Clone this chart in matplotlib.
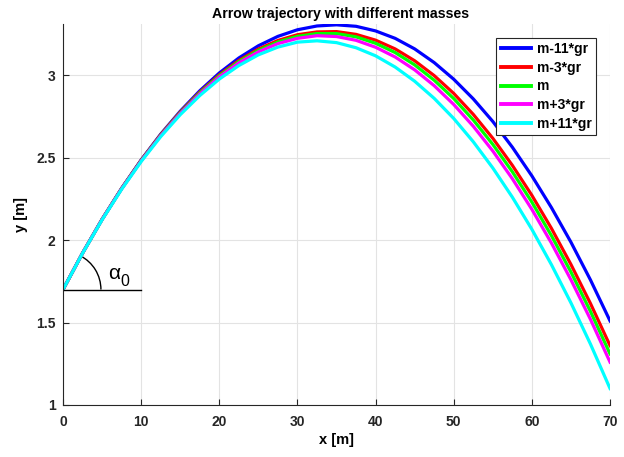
import matplotlib
matplotlib.use('Agg')
import matplotlib.pyplot as plt
from matplotlib.patches import Arc

# distance along the ground [m]
x_m = [0, 2.5, 5, 7.5, 10, 12.5, 15, 17.5, 20, 22.5, 25, 27.5, 30, 32.5, 35,
       37.5, 40, 42.5, 45, 47.5, 50, 52.5, 55, 57.5, 60, 62.5, 65, 67.5, 70]

# height [m] for each arrow mass
y_m_minus_11 = [1.700, 1.921, 2.126, 2.314, 2.486, 2.642, 2.781, 2.905, 3.013, 3.104, 3.178, 3.235, 3.275, 3.298, 3.305,
                3.296, 3.268, 3.223, 3.159, 3.076, 2.975, 2.856, 2.719, 2.563, 2.389, 2.197, 1.987, 1.758, 1.510]
y_m_minus_3 = [1.700, 1.921, 2.126, 2.313, 2.484, 2.639, 2.776, 2.897, 3.002, 3.089, 3.158, 3.210, 3.245, 3.262, 3.264,
               3.247, 3.212, 3.159, 3.087, 2.997, 2.889, 2.762, 2.617, 2.453, 2.271, 2.071, 1.852, 1.615, 1.360]
y_m = [1.700, 1.921, 2.125, 2.312, 2.482, 2.636, 2.772, 2.892, 2.996, 3.082, 3.150, 3.201, 3.235, 3.252, 3.252,
       3.232, 3.193, 3.137, 3.062, 2.969, 2.858, 2.728, 2.580, 2.414, 2.230, 2.027, 1.806, 1.567, 1.310]
y_m_plus_3 = [1.700, 1.921, 2.125, 2.311, 2.480, 2.633, 2.768, 2.886, 2.989, 3.074, 3.141, 3.191, 3.223, 3.239, 3.234,
              3.211, 3.169, 3.110, 3.032, 2.936, 2.822, 2.690, 2.540, 2.372, 2.186, 1.982, 1.759, 1.519, 1.260]
y_m_plus_11 = [1.700, 1.920, 2.123, 2.308, 2.476, 2.627, 2.760, 2.876, 2.976, 3.058, 3.123, 3.170, 3.200, 3.208, 3.197,
               3.166, 3.117, 3.049, 2.963, 2.859, 2.737, 2.596, 2.437, 2.260, 2.065, 1.851, 1.619, 1.369, 1.100]

labels = ['m-11*gr', 'm-3*gr', 'm', 'm+3*gr', 'm+11*gr']
colors = ['#0000ff', '#ff0000', '#00ff00', '#ff00ff', '#00ffff']
series = [y_m_minus_11, y_m_minus_3, y_m, y_m_plus_3, y_m_plus_11]

x_ticks = [0, 10, 20, 30, 40, 50, 60, 70]
y_ticks = [1, 1.5, 2, 2.5, 3]
y_ticklabels = ['1', '1.5', '2', '2.5', '3']

plt.rcParams['font.family'] = ['Liberation Sans', 'DejaVu Sans']

fig = plt.figure(figsize=(6.24, 4.57), dpi=100)
ax = fig.add_axes([0.101, 0.1138, 0.8766, 0.8337])

for ys, c, lab in zip(series, colors, labels):
    ax.plot(x_m, ys, color=c, linewidth=2.3, label=lab, solid_joinstyle='round')

# launch angle sketch
ax.plot([0, 10], [1.70, 1.70], color='black', linewidth=1)
ax.add_patch(Arc((0, 1.70), 9.7, 0.46, theta1=0, theta2=5.3, color='black', linewidth=1))
ax.text(5.75, 1.80, 'α', fontsize=15, va='center', ha='left')
ax.text(7.3, 1.75, '0', fontsize=11.5, va='center', ha='left')

ax.set_xlim(0, 70)
ax.set_ylim(1, 3.31)
ax.set_xticks(x_ticks)
ax.set_yticks(y_ticks)
ax.set_yticklabels(y_ticklabels)
ax.grid(True, color='#e3e3e3', linewidth=0.8)
ax.set_axisbelow(True)
for s in ['top', 'right']:
    ax.spines[s].set_visible(False)
for s in ['left', 'bottom']:
    ax.spines[s].set_color('#262626')
ax.tick_params(direction='in', length=4, colors='#262626', labelsize=10)
ax.tick_params(axis='x', pad=7)
ax.tick_params(axis='y', pad=5.5)
for lbl in ax.get_xticklabels() + ax.get_yticklabels():
    lbl.set_fontweight('bold')

ax.set_title('Arrow trajectory with different masses', fontsize=10.2, fontweight='bold', pad=4, x=0.508)
ax.set_xlabel('x [m]', fontsize=10.5, fontweight='bold', labelpad=3)
ax.set_ylabel('y [m]', fontsize=10.5, fontweight='bold', labelpad=6)

leg = ax.legend(loc='upper right', bbox_to_anchor=(0.974, 0.963), borderaxespad=0, fancybox=False,
                edgecolor='#262626', prop={'weight': 'bold', 'size': 10}, handlelength=2.2, borderpad=0.3,
                labelspacing=0.33, handletextpad=0.4, framealpha=1)
leg.get_frame().set_linewidth(0.8)
for h in leg.get_lines():
    h.set_linewidth(2.8)

fig.savefig('out.png', dpi=100)
